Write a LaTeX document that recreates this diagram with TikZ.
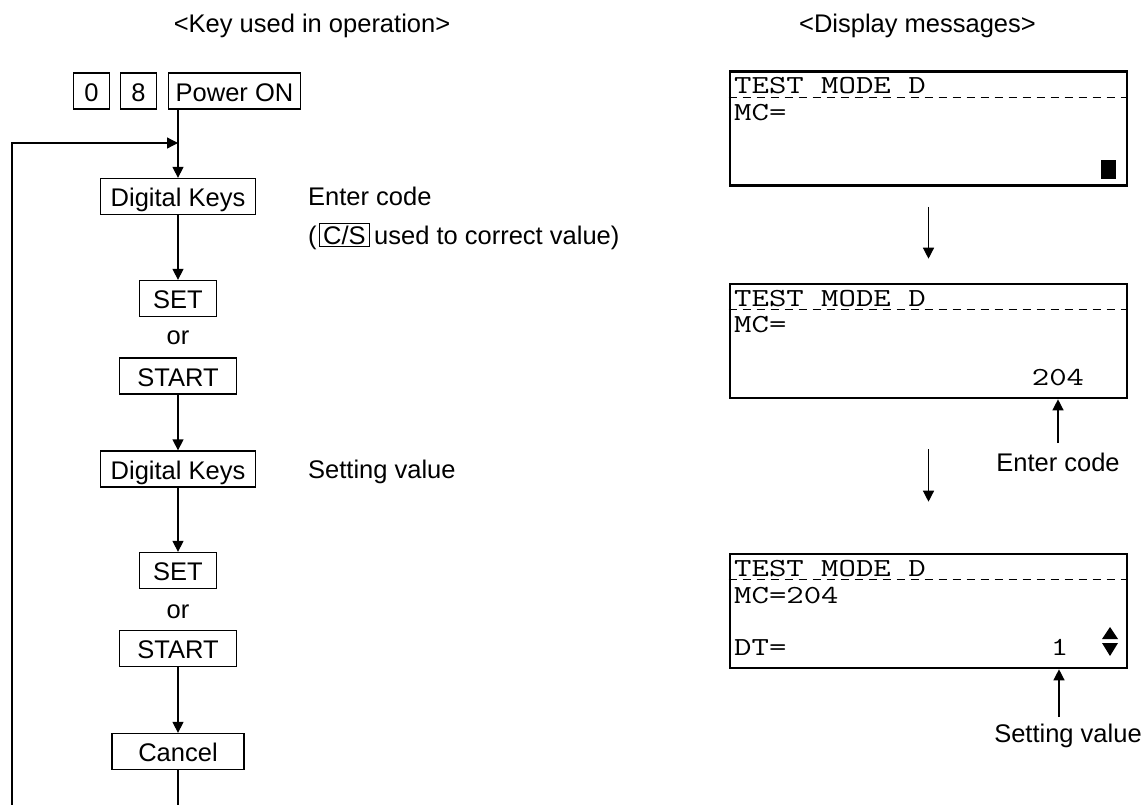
\documentclass[tikz,border=0pt]{standalone}
\usepackage{fontspec}
\usepackage{graphicx}
\setmainfont{Liberation Sans}
\usetikzlibrary{arrows.meta}
\newcommand\lcdstr[1]{\scalebox{1.3}[1]{#1}}
\begin{document}
\begin{tikzpicture}[x=1pt,y=-1pt,
  every node/.style={font=\fontsize{25.5}{30}\selectfont, inner sep=0pt},
  key/.style={draw, line width=1.3pt, minimum height=36pt, text height=22pt, text depth=2pt},
  lbl/.style={anchor=base west},
  arr/.style={line width=1.3pt, -{Triangle[length=11pt,width=11pt]}},
  ln/.style={line width=1.3pt},
  lcd/.style={draw, line width=2.6pt, minimum width=397pt, minimum height=114pt},
  lcdtxt/.style={font=\ttfamily\fontsize{26}{30}\selectfont, anchor=base west},
  lcdnum/.style={font=\ttfamily\fontsize{26}{30}\selectfont, anchor=base},
  dsh/.style={line width=0.9pt, dash pattern=on 8pt off 6pt},
]
\useasboundingbox (0,0) rectangle (1146,804);

% headers
\node[anchor=base] (h1) at (312,32) {<Key used in operation>};
\node[anchor=base] (h2) at (917.5,32) {<Display messages>};

% left flow
\node[key, minimum width=36pt] (k0) at (91.5,91) {0};
\node[key, minimum width=36pt] (k8) at (138.5,91) {8};
\node[key, minimum width=132pt] (pwr) at (234.5,91) {Power ON};
\node[key, minimum width=155pt] (dk1) at (178,196.5) {Digital Keys};
\node[key, minimum width=77pt] (set1) at (178,298.5) {SET};
\node (or1) at (178,338) {or};
\node[key, minimum width=117pt] (start1) at (178,376) {START};
\node[key, minimum width=155pt] (dk2) at (178,469) {Digital Keys};
\node[key, minimum width=77pt] (set2) at (178,570.5) {SET};
\node (or2) at (178,611.5) {or};
\node[key, minimum width=117pt] (start2) at (178,648.5) {START};
\node[key, minimum width=132pt] (cancel) at (178,751.5) {Cancel};

\draw[arr] (dk1.north |- pwr.south) -- (dk1.north);
\draw[arr] (dk1.south) -- (set1.north);
\draw[arr] (start1.south) -- (dk2.north);
\draw[arr] (dk2.south) -- (set2.north);
\draw[arr] (start2.south) -- (cancel.north);
\coordinate (cb) at (178,806);
\draw[ln] (cancel.south) -- (cb);
\coordinate (lb) at (12,806);
\coordinate (lj) at (178,143);
\draw[arr] (lb) -- (lb |- lj) -- (lj);

% left labels
\node[lbl] (ec1) at (308,205) {Enter code};
\node[lbl] (par) at (308,244) {(};
\node[draw, line width=1.1pt, minimum width=50pt, minimum height=23pt, text height=19pt, text depth=1pt] (cs) at (344.5,235) {C/S};
\node[lbl] (cstail) at (374,244) {used to correct value)};
\node[lbl] (sv1) at (308,478) {Setting value};

% displays
\node[lcd] (d1) at (928.5,128.5) {};
\node[lcd] (d2) at (928.5,341) {};
\node[lcd] (d3) at (928.5,611) {};
\draw[dsh] ([yshift=-27pt]d1.north west) -- ([yshift=-27pt]d1.north east);
\draw[dsh] ([yshift=-27pt]d2.north west) -- ([yshift=-27pt]d2.north east);
\draw[dsh] ([yshift=-27pt]d3.north west) -- ([yshift=-27pt]d3.north east);

\node[lcdtxt] (t1a) at (734,93) {\lcdstr{TEST MODE D}};
\node[lcdtxt] (t1b) at (734,120) {\lcdstr{MC=}};
\node[fill, minimum width=15pt, minimum height=19pt] (cur) at (1108.5,169.5) {};

\node[lcdtxt] (t2a) at (734,306) {\lcdstr{TEST MODE D}};
\node[lcdtxt] (t2b) at (734,332) {\lcdstr{MC=}};
\node[lcdnum] (t2c) at (1058,385) {\lcdstr{204}};

\node[lcdtxt] (t3a) at (734,576) {\lcdstr{TEST MODE D}};
\node[lcdtxt] (t3b) at (734,603) {\lcdstr{MC=204}};
\node[lcdtxt] (t3c) at (734,655) {\lcdstr{DT=}};
\node[lcdnum] (t3d) at (1059.5,655) {\lcdstr{1}};
\fill (1102,639) -- (1118,639) -- (1110,627) -- cycle;
\fill (1102,643) -- (1118,643) -- (1110,656) -- cycle;

% display arrows
\draw[arr] ([yshift=-20pt]d1.south) -- ([yshift=24pt]d2.north);
\draw[arr] ([yshift=-50pt]d2.south) -- ([yshift=51pt]d3.north);

\node[anchor=base] (ec2) at (1058,471) {Enter code};
\coordinate (eca) at (1058,443);
\draw[arr] (eca) -- (eca |- d2.south);
\node[anchor=base] (sv2) at (1068,742) {Setting value};
\coordinate (sva) at (1059,717);
\draw[arr] (sva) -- (sva |- d3.south);
\end{tikzpicture}
\end{document}
